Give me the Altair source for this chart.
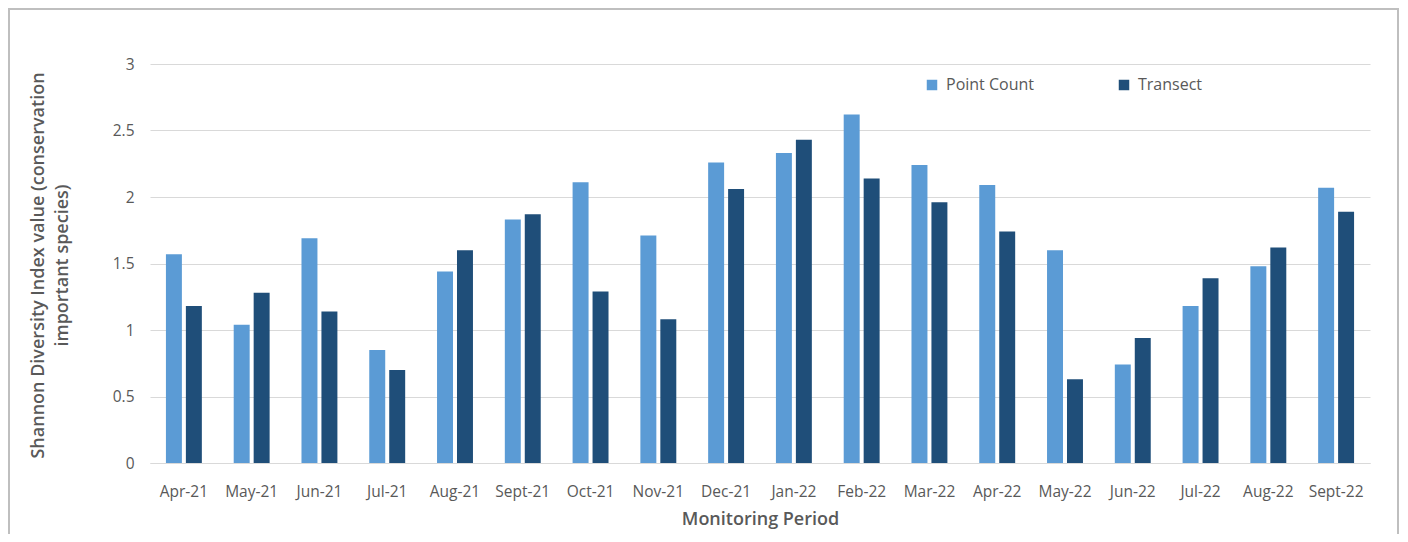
import altair as alt
import pandas as pd

months = ["Apr-21", "May-21", "Jun-21", "Jul-21", "Aug-21", "Sept-21", "Oct-21", "Nov-21",
          "Dec-21", "Jan-22", "Feb-22", "Mar-22", "Apr-22", "May-22", "Jun-22", "Jul-22",
          "Aug-22", "Sept-22"]
point_count = [1.57, 1.04, 1.69, 0.85, 1.44, 1.83, 2.11, 1.71, 2.26, 2.33, 2.62, 2.24,
               2.09, 1.60, 0.74, 1.18, 1.48, 2.07]
transect = [1.18, 1.28, 1.14, 0.70, 1.60, 1.87, 1.29, 1.08, 2.06, 2.43, 2.14, 1.96,
            1.74, 0.63, 0.94, 1.39, 1.62, 1.89]
series = ["Point Count", "Transect"]
colors = ["#5B9BD5", "#1F4E79"]

rows = []
for m, pc, tr in zip(months, point_count, transect):
    rows.append({"Month": m, "Series": series[0], "Value": pc})
    rows.append({"Month": m, "Series": series[1], "Value": tr})
df = pd.DataFrame(rows)

FONT = "Open Sans"
GREY = "#595959"

bars = alt.Chart(df).mark_bar().encode(
    x=alt.X("Month:N", sort=months,
            scale=alt.Scale(paddingInner=0.47, paddingOuter=0.235),
            axis=alt.Axis(title="Monitoring Period", labelAngle=0, labelFontSize=15.5,
                          labelColor=GREY, labelFont=FONT, labelPadding=21,
                          ticks=False, domainColor="#D9D9D9", domainWidth=1,
                          titleFont=FONT, titleFontSize=18, titleFontWeight=600,
                          titleColor=GREY, titlePadding=11, grid=False)),
    xOffset=alt.XOffset("Series:N", sort=series, scale=alt.Scale(paddingInner=0.2)),
    y=alt.Y("Value:Q", scale=alt.Scale(domain=[0, 3]),
            axis=alt.Axis(values=[0, 0.5, 1, 1.5, 2, 2.5, 3], format="~g",
                          title=["Shannon Diversity Index value (conservation",
                                 "important species)"],
                          titleFont=FONT, titleFontSize=18, titleFontWeight=600,
                          titleColor=GREY, titleAngle=-90, titleX=-112, titleY=201,
                          titleAlign="center", titleBaseline="middle", titleLineHeight=24,
                          labelFontSize=15.5, labelColor=GREY, labelFont=FONT,
                          labelPadding=16, ticks=False, domain=False,
                          gridColor="#D9D9D9", gridWidth=1)),
    color=alt.Color("Series:N", sort=series,
                    scale=alt.Scale(domain=series, range=colors),
                    legend=alt.Legend(title=None, orient="none", legendX=774, legendY=13,
                                      direction="horizontal", columns=2,
                                      symbolType="square", symbolSize=110,
                                      symbolStrokeWidth=0, labelFontSize=16,
                                      labelColor=GREY, labelFont=FONT, labelOffset=6,
                                      columnPadding=82)),
)

frame = alt.Chart(pd.DataFrame({"a": [0]})).mark_rect(
    fill=None, stroke="#BFBFBF", strokeWidth=2
).encode(
    x=alt.value(-141), x2=alt.value(1248), y=alt.value(-55), y2=alt.value(520)
)

chart = alt.layer(bars, frame).properties(
    width=1220, height=399,
    autosize=alt.AutoSizeParams(type="none"),
    padding={"left": 142, "top": 56, "right": 30, "bottom": 71},
).configure(font=FONT).configure_view(stroke=None)

chart.save("out.html", embed_options={"renderer": "svg", "actions": False})
